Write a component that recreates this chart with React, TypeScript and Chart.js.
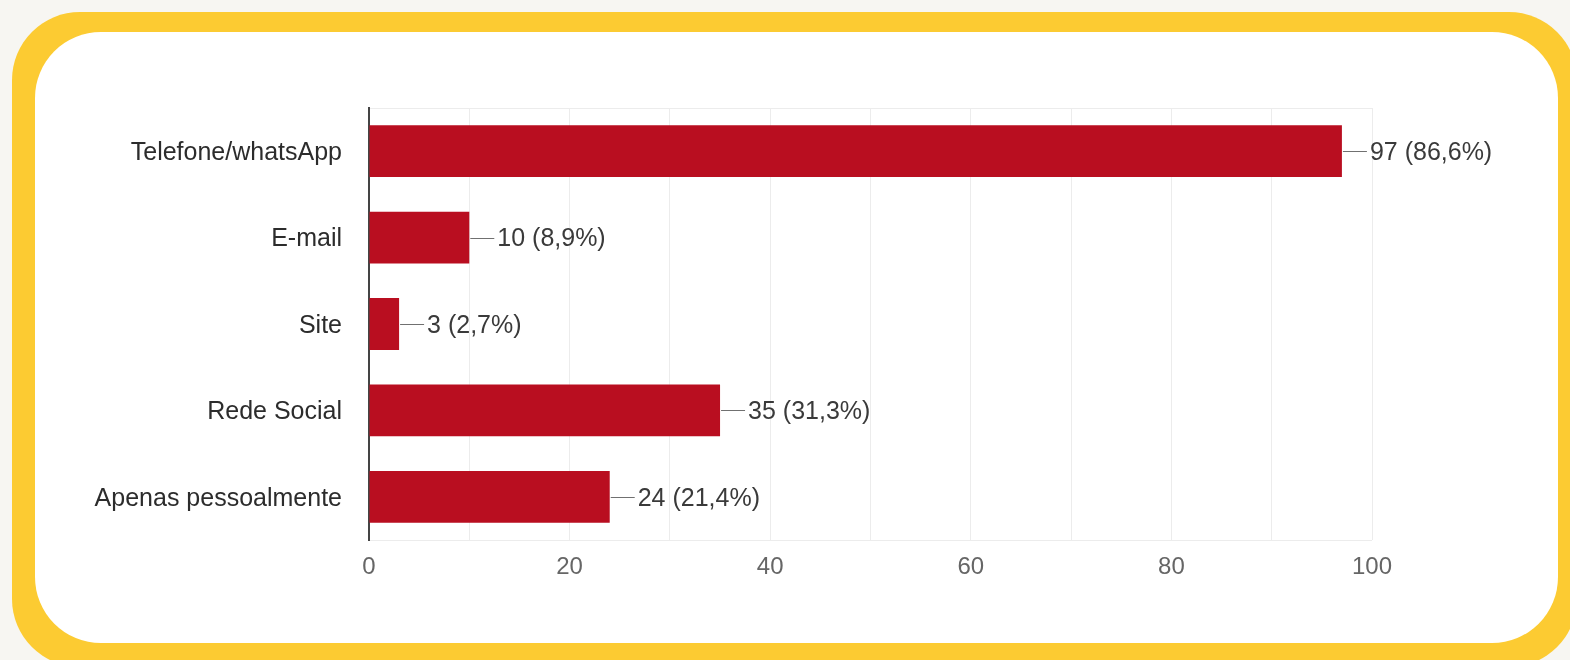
import React, { useEffect, useRef } from "react";
import { Chart, registerables } from "chart.js";

Chart.register(...registerables);

// Survey answers: preferred contact channel
const categories = [
  "Telefone/whatsApp",
  "E-mail",
  "Site",
  "Rede Social",
  "Apenas pessoalmente",
];
const counts = [97, 10, 3, 35, 24];
const percents = [86.6, 8.9, 2.7, 31.3, 21.4];
const xTickValues = [0, 20, 40, 60, 80, 100];

const FONT = "'Liberation Sans', Arial, sans-serif";
const BAR_RED = "#b90e20";
const FAINT = "#ececec";

const fmtPct = (p: number) => p.toFixed(1).replace(".", ",");

// Leader line + "n (p%)" text drawn after each bar
const valueLabels = {
  id: "valueLabels",
  afterDatasetsDraw(chart: any) {
    const ctx = chart.ctx;
    const meta = chart.getDatasetMeta(0);
    ctx.save();
    ctx.font = `25px ${FONT}`;
    ctx.textBaseline = "middle";
    ctx.textAlign = "left";
    meta.data.forEach((bar: any, i: number) => {
      const x = bar.x;
      const y = Math.round(bar.y) + 0.5;
      ctx.strokeStyle = "#707070";
      ctx.lineWidth = 1;
      ctx.beginPath();
      ctx.moveTo(x + 1, y);
      ctx.lineTo(x + 25, y);
      ctx.stroke();
      ctx.fillStyle = "#3a3a3a";
      ctx.fillText(`${counts[i]} (${fmtPct(percents[i])}%)`, x + 28, bar.y + 2);
    });
    ctx.restore();
  },
};

function BarChart() {
  const ref = useRef<HTMLCanvasElement | null>(null);

  useEffect(() => {
    if (!ref.current) return;
    const chart = new Chart(ref.current, {
      type: "bar",
      data: {
        labels: categories,
        datasets: [
          {
            data: counts,
            backgroundColor: BAR_RED,
            borderWidth: 0,
            barPercentage: 0.6,
            categoryPercentage: 1,
          },
        ],
      },
      options: {
        indexAxis: "y",
        responsive: false,
        animation: false,
        devicePixelRatio: 1,
        layout: { padding: { top: 76, right: 186, bottom: 53, left: 0 } },
        plugins: {
          legend: { display: false },
          tooltip: { enabled: false },
        },
        scales: {
          x: {
            min: 0,
            max: 100,
            afterFit: (scale: any) => {
              scale.height = 50;
            },
            afterBuildTicks: (scale: any) => {
              const ticks = [];
              for (let v = 0; v <= 100; v += 10) ticks.push({ value: v });
              scale.ticks = ticks;
            },
            ticks: {
              autoSkip: false,
              maxRotation: 0,
              padding: 13,
              color: "#666666",
              font: { family: FONT, size: 24 },
              callback: (v: any) => (xTickValues.includes(Number(v)) ? String(v) : ""),
            },
            grid: { color: FAINT, lineWidth: 1, drawTicks: false },
            border: { display: false },
          },
          y: {
            afterFit: (scale: any) => {
              scale.width = 334;
            },
            ticks: {
              padding: 27,
              labelOffset: 2,
              color: "#2c2c2c",
              font: { family: FONT, size: 25 },
            },
            grid: {
              offset: true,
              drawTicks: false,
              lineWidth: 1,
              color: (c: any) =>
                c.type !== "tick" || c.index === 0 ? FAINT : "rgba(0,0,0,0)",
            },
            border: { display: true, color: "#444444", width: 2 },
          },
        },
      },
      plugins: [valueLabels],
    });
    return () => chart.destroy();
  }, []);

  return (
    <canvas
      ref={ref}
      width={1523}
      height={611}
      style={{ position: "absolute", left: 35, top: 32, width: 1523, height: 611 }}
    />
  );
}

export default function App() {
  return (
    <div
      style={{
        position: "absolute",
        left: 0,
        top: 0,
        width: 1570,
        height: 660,
        overflow: "hidden",
        background: "#f7f6f2",
      }}
    >
      <div
        style={{
          position: "absolute",
          left: 12,
          top: 12,
          width: 1565,
          height: 655,
          borderRadius: 68,
          background: "#fccb32",
        }}
      />
      <div
        style={{
          position: "absolute",
          left: 35,
          top: 32,
          width: 1523,
          height: 611,
          borderRadius: 66,
          background: "#ffffff",
        }}
      />
      <BarChart />
    </div>
  );
}
